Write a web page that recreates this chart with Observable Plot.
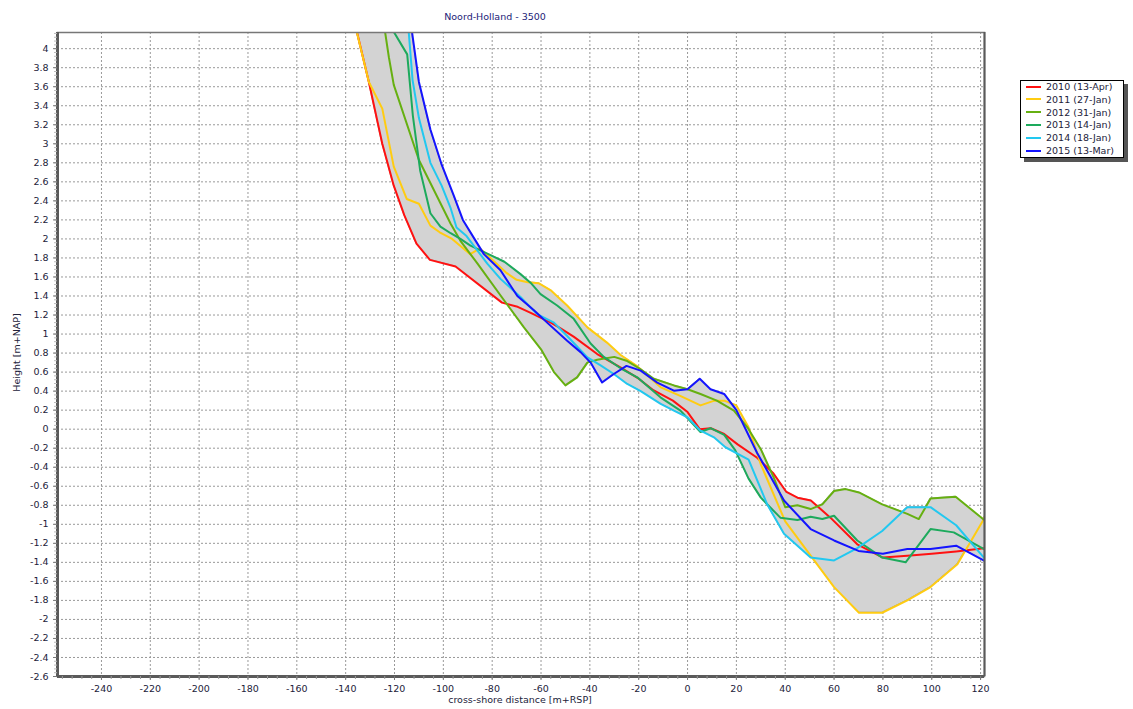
<!DOCTYPE html>
<html><head><meta charset="utf-8">
<script src="https://cdn.jsdelivr.net/npm/d3@7"></script>
<script src="https://cdn.jsdelivr.net/npm/@observablehq/plot@0.6"></script>
<style>
body{margin:0;background:#fff;font-family:"DejaVu Sans",Verdana,sans-serif;}
#wrap{position:relative;width:1133px;height:709px;overflow:hidden;}
#wrap svg{position:absolute;left:0;top:0;}
.lbl{position:absolute;font-size:9.5px;color:#22223a;white-space:nowrap;}
#title{left:395px;top:11px;width:200px;text-align:center;color:#1c1c78;}
#xlab{left:420px;top:694px;width:200px;text-align:center;}
#ylab{left:-34px;top:347px;width:100px;text-align:center;transform:rotate(-90deg);}
#legend{position:absolute;left:1020px;top:80px;width:102px;height:76px;border:1px solid #000;background:#fff;box-shadow:4px 4px 0 #555;}
.row{position:absolute;left:5px;height:12px;font-size:9.5px;color:#22223a;line-height:12px;white-space:nowrap;}
.row i{display:inline-block;width:15px;height:2px;vertical-align:middle;margin-right:5px;position:relative;top:-1px;}
</style>
</head><body>
<div id="wrap">
  <div id="chart"></div>
  <div class="lbl" id="title">Noord-Holland - 3500</div>
  <div class="lbl" id="xlab">cross-shore distance [m+RSP]</div>
  <div class="lbl" id="ylab">Height [m+NAP]</div>
  <div id="legend"></div>
</div>
<script>
// ---- data ----
const years = ["2010 (13-Apr)", "2011 (27-Jan)", "2012 (31-Jan)", "2013 (14-Jan)", "2014 (18-Jan)", "2015 (13-Mar)"];
const colors = ["#ff1111", "#ffcc11", "#66b011", "#1daa5c", "#22c8f0", "#1414ff"];

const s2010 = [[-137,4.35],[-130.5,3.65],[-125,3.0],[-120.3,2.56],[-116,2.25],[-111,1.95],[-105.5,1.78],[-95,1.71],[-76,1.33],[-70,1.29],[-64,1.22],[-56,1.12],[-52,1.06],[-46.5,0.97],[-37,0.79],[-27.5,0.65],[-20.5,0.54],[-14,0.41],[-6,0.30],[0,0.18],[5,0.0],[9.5,0.01],[15,-0.05],[20.5,-0.16],[28.5,-0.30],[35,-0.46],[40.5,-0.66],[45,-0.72],[50.5,-0.75],[58.5,-0.93],[69.5,-1.21],[80,-1.35],[90,-1.33],[100,-1.31],[110,-1.285],[122,-1.25]];
const s2011 = [[-137,4.34],[-130.5,3.65],[-125,3.37],[-120.3,2.76],[-115,2.42],[-110,2.37],[-105.3,2.14],[-101.5,2.07],[-96.4,2.0],[-89,1.84],[-85,1.90],[-74,1.64],[-70,1.57],[-65.5,1.545],[-61,1.535],[-56,1.46],[-53.5,1.40],[-49.3,1.30],[-41,1.07],[-33,0.91],[-27.4,0.78],[-20.5,0.66],[-11,0.44],[-3,0.35],[5.3,0.25],[11,0.30],[15,0.30],[20,0.25],[25,0.02],[30,-0.37],[40,-0.97],[50.4,-1.33],[60,-1.66],[70.2,-1.93],[79.7,-1.93],[90,-1.80],[99.5,-1.66],[110.5,-1.42],[121,-0.96],[122,-0.90]];
const s2012 = [[-125,4.37],[-122.3,3.91],[-120.3,3.62],[-110,2.83],[-97,2.16],[-93,1.98],[-86,1.74],[-75,1.35],[-67,1.07],[-60,0.84],[-54.7,0.60],[-50,0.46],[-45.2,0.545],[-41,0.70],[-37,0.73],[-30,0.76],[-25,0.72],[-19.2,0.63],[-13.8,0.53],[-5.6,0.46],[0,0.42],[5.3,0.37],[12,0.30],[19,0.195],[24.5,0.02],[30,-0.21],[35.3,-0.51],[40,-0.82],[45,-0.80],[50.4,-0.84],[55.2,-0.79],[60,-0.65],[64.7,-0.63],[70.2,-0.665],[79.7,-0.79],[90,-0.89],[94.7,-0.945],[99.5,-0.73],[109.8,-0.71],[121,-0.945],[122,-0.96]];
const s2013 = [[-122,4.25],[-114.8,3.94],[-112.5,3.30],[-109.5,2.72],[-105.3,2.27],[-101.2,2.13],[-97,2.06],[-93,2.0],[-88.9,1.93],[-80.7,1.83],[-75,1.76],[-68.4,1.63],[-64.3,1.54],[-60.2,1.42],[-53.4,1.30],[-46.6,1.16],[-39.7,0.90],[-34.3,0.76],[-27.4,0.64],[-20.6,0.545],[-11.1,0.335],[-2.9,0.195],[5.3,-0.03],[9.4,0.01],[15,-0.06],[19.5,-0.22],[25,-0.52],[30,-0.72],[33,-0.80],[38,-0.93],[45,-0.955],[50.4,-0.92],[55.2,-0.945],[60,-0.91],[69.5,-1.17],[79.7,-1.35],[89.3,-1.40],[99.5,-1.05],[109,-1.085],[122,-1.27]];
const s2014 = [[-114.5,4.28],[-112.6,3.67],[-110,3.27],[-105.3,2.80],[-100.7,2.56],[-97.1,2.33],[-94.6,2.12],[-90.5,2.03],[-86.1,1.88],[-82,1.74],[-76.6,1.58],[-68.4,1.39],[-61.6,1.21],[-54.7,1.12],[-49.3,0.98],[-41,0.755],[-35.6,0.67],[-30.2,0.58],[-24.7,0.475],[-19.2,0.40],[-11,0.265],[-5.6,0.195],[0,0.124],[5.3,-0.016],[10.8,-0.086],[15.5,-0.19],[25,-0.32],[32.6,-0.79],[39.5,-1.10],[50.4,-1.35],[60,-1.38],[69.5,-1.25],[79.7,-1.07],[90,-0.82],[99.5,-0.82],[110,-1.01],[122,-1.37]];
const s2015 = [[-113.5,4.30],[-110,3.65],[-105.3,3.15],[-100.8,2.79],[-95.8,2.46],[-92,2.20],[-87,1.99],[-83.4,1.84],[-76.6,1.67],[-69.7,1.40],[-62.9,1.25],[-57.5,1.12],[-49.3,0.93],[-43.8,0.81],[-39.7,0.70],[-35,0.49],[-30.2,0.58],[-25,0.665],[-19.2,0.615],[-12.4,0.49],[-5.6,0.405],[0,0.42],[5,0.53],[9.4,0.42],[15,0.37],[20,0.20],[28.5,-0.25],[39.5,-0.75],[50.4,-1.05],[60,-1.17],[70,-1.28],[80,-1.31],[90,-1.26],[99.5,-1.26],[110,-1.225],[122,-1.39]];

const xTicks = d3.range(-240, 121, 20);
const yTicks = d3.range(-26, 41, 2).map(v => v / 10);
const xDomain = [-258, 121.6];
const yDomain = [-2.6, 4.17];

// ---- build tables ----
const series = [s2010, s2011, s2012, s2013, s2014, s2015];
const rows = series.flatMap((s, i) => s.map(([x, y]) => ({x, y, year: years[i]})));

function valueAt(s, x) {
  if (x < s[0][0]) return Infinity;          // line is above the plot there
  if (x > s[s.length - 1][0]) return NaN;
  for (let i = 1; i < s.length; i++) {
    if (x <= s[i][0]) {
      const [x0, y0] = s[i - 1], [x1, y1] = s[i];
      return y0 + (y1 - y0) * (x - x0) / (x1 - x0);
    }
  }
  return NaN;
}
const xsAll = Array.from(new Set([
  ...series.flatMap(s => s.map(d => d[0])),
  ...d3.range(-137, 122, 0.25)
])).sort((a, b) => a - b);
const env = [];
for (const x of xsAll) {
  const vals = series.map(s => valueAt(s, x)).filter(v => !isNaN(v));
  if (!vals.length) continue;
  const lo = Math.min(...vals);
  if (!isFinite(lo)) continue;
  env.push({x, lo, hi: Math.min(Math.max(...vals), 4.8)});
}

const fmt = d => String(+(+d).toFixed(1));

const chart = Plot.plot({
  width: 1133,
  height: 709,
  marginLeft: 57,
  marginRight: 149,
  marginTop: 32,
  marginBottom: 33,
  style: {fontFamily: "'DejaVu Sans', Verdana, sans-serif", fontSize: "9.5px", color: "#22223a", background: "transparent"},
  x: {domain: xDomain, label: null},
  y: {domain: yDomain, label: null},
  color: {domain: years, range: colors},
  marks: [
    Plot.gridX(xTicks, {stroke: "#999", strokeOpacity: 1, strokeDasharray: "2,2"}),
    Plot.gridY(yTicks, {stroke: "#999", strokeOpacity: 1, strokeDasharray: "2,2"}),
    Plot.areaY(env, {x: "x", y1: "lo", y2: "hi", fill: "#d3d3d3", stroke: "#8a8a8a", strokeWidth: 0.8, clip: true}),
    Plot.line(rows, {x: "x", y: "y", z: "year", stroke: "year", strokeWidth: 2, clip: true}),
    Plot.frame({stroke: "#777", strokeWidth: 1.5}),
    Plot.ruleX([xDomain[0]], {stroke: "#5a5a5a", strokeWidth: 3}),
    Plot.ruleY([yDomain[0]], {stroke: "#5a5a5a", strokeWidth: 3}),
    Plot.ruleX([xDomain[1]], {stroke: "#5a5a5a", strokeWidth: 2}),
    Plot.axisX(d3.range(-256, 121, 4), {tickSize: 3, text: null, stroke: "#999"}),
    Plot.axisY(d3.range(-2.6, 4.17, 0.04), {tickSize: 3, text: null, stroke: "#bbb"}),
    Plot.axisX(xTicks, {tickSize: 4, tickPadding: 5, tickFormat: fmt, stroke: "#777", fill: "#22223a"}),
    Plot.axisY(yTicks, {tickSize: 4, tickPadding: 5, tickFormat: fmt, stroke: "#777", fill: "#22223a"})
  ]
});
document.getElementById("chart").appendChild(chart);

// ---- legend ----
const legend = document.getElementById("legend");
years.forEach((y, i) => {
  const r = document.createElement("div");
  r.className = "row";
  r.style.top = (0 + i * 12.8) + "px";
  r.innerHTML = `<i style="background:${colors[i]}"></i>${y}`;
  legend.appendChild(r);
});
</script>
</body></html>
